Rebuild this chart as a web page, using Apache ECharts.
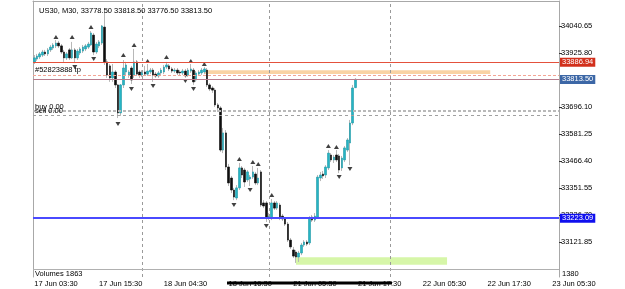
<!DOCTYPE html>
<html><head><meta charset="utf-8">
<script src="https://cdn.jsdelivr.net/npm/echarts/dist/echarts.min.js"></script>
<style>html,body{margin:0;padding:0;background:#fff}#c{width:625px;height:289px}</style>
</head><body><div id="c"></div><script>
// ---- data ----
const tickLabels = ['17 Jun 03:30','17 Jun 15:30','18 Jun 04:30','18 Jun 16:30','21 Jun 05:30','21 Jun 17:30','22 Jun 05:30','22 Jun 17:30','23 Jun 05:30'];
const priceTicks = [33121.85,33236.70,33351.55,33466.40,33581.25,33696.10,33925.80,34040.65];
const open  = [33887,33900,33909,33917,33930,33922,33939,33947,33956,33968,33956,33930,33905,33939,33905,33939,33905,33926,33934,33943,33951,33960,34002,33930,33956,33968,34036,33888,33871,33820,
33845,33790,33671,33790,33845,33832,33862,33832,33888,33845,33832,33845,33836,33845,33853,33836,33828,33841,33845,33866,33871,33858,33849,33853,33845,33841,33849,33832,33849,33853,
33811,33836,33841,33845,33853,33790,33777,33768,33705,33692,33513,33586,33441,33394,33343,33309,33352,33437,33428,33386,33390,33398,33411,33373,33420,33288,33288,33224,33224,33288,
33266,33279,33232,33220,33198,33130,33088,33079,33058,33075,33109,33122,33118,33228,33215,33228,33394,33411,33407,33437,33492,33471,33492,33488,33437,33471,33513,33543,33628,33778.5];
const high  = [33917,33922,33930,33939,33939,33947,33960,33968,33981,33977,33964,33939,33930,33947,33973,33947,33943,33951,33960,33964,33973,34019,34011,33973,33981,34045,34117,33900,33879,33879,
33853,33794,33794,33896,33888,33853,33871,33943,33896,33853,33853,33871,33879,33862,33862,33845,33849,33862,33875,33888,33879,33866,33862,33862,33853,33858,33858,33862,33879,33862,
33849,33853,33862,33866,33862,33798,33785,33777,33713,33700,33607,33598,33454,33403,33352,33364,33458,33445,33437,33428,33407,33445,33420,33437,33428,33300,33296,33245,33305,33296,
33296,33288,33241,33228,33207,33139,33101,33088,33084,33118,33130,33130,33232,33237,33245,33407,33420,33424,33449,33513,33500,33492,33513,33496,33488,33530,33564,33641,33790,33818.5];
const low   = [33879,33892,33900,33909,33913,33913,33930,33939,33947,33947,33922,33888,33896,33896,33900,33883,33896,33917,33926,33934,33943,33956,33917,33922,33947,33960,33875,33820,33803,33803,
33777,33649,33658,33777,33832,33820,33794,33820,33828,33820,33824,33828,33828,33836,33803,33820,33820,33832,33836,33858,33849,33841,33841,33832,33832,33832,33820,33824,33841,33790,
33803,33828,33832,33836,33781,33764,33756,33696,33675,33505,33500,33428,33360,33330,33300,33300,33343,33394,33356,33377,33360,33390,33364,33364,33271,33266,33207,33215,33215,33258,
33258,33215,33211,33190,33122,33092,33054,33033,33037,33066,33101,33105,33109,33207,33207,33220,33381,33390,33394,33428,33462,33458,33462,33415,33424,33462,33505,33449,33619,33776.5];
const close = [33905,33913,33922,33930,33922,33939,33951,33960,33968,33956,33930,33905,33922,33905,33939,33905,33934,33943,33951,33956,33964,34011,33930,33964,33973,34041,33888,33832,33820,33845,
33790,33671,33790,33862,33875,33845,33811,33888,33836,33832,33845,33836,33849,33853,33832,33828,33841,33853,33866,33875,33858,33849,33853,33841,33841,33849,33828,33853,33858,33803,
33841,33845,33853,33858,33790,33773,33768,33705,33692,33513,33586,33441,33373,33343,33313,33352,33437,33407,33377,33420,33398,33420,33373,33394,33279,33275,33224,33232,33288,33266,
33288,33224,33220,33198,33130,33101,33062,33058,33075,33109,33122,33113,33224,33215,33232,33398,33407,33403,33441,33500,33471,33483,33471,33428,33479,33522,33556,33628,33777,33813.5];
const fractalUp   = [[8,33994],[14,33994],[21,34036],[33,33917],[37,33960],[42,33892],[49,33909],[58,33892],[63,33879],[76,33475],[81,33462],[83,33454],[88,33322],[109,33530],[112,33526]];
const fractalDown = [[15,33866],[22,33900],[31,33624],[36,33773],[44,33785],[56,33807],[59,33773],[74,33279],[80,33343],[86,33190],[113,33398],[117,33432]];
const hLevels = {stop: 33886.94, tp: 33830.9, bid: 33813.50, buy: 33680.4, sell: 33660.8, blue: 33223.09, volSep: 33007};
const daySeparators = [40, 87, 132];
const orangeZone = {from: 63, to: 169, top: 33852, bottom: 33836};
const greenZone  = {from: 97, to: 153, top: 33057, bottom: 33025};
const nCats = 195;

// ---- build ----
const cats = Array.from({length: nCats}, (_, i) => String(i));
const wickData = open.map((o, i) => [o, close[i], low[i], high[i]]);
const bodyData = open.map((o, i) => [o, close[i], Math.min(o, close[i]), Math.max(o, close[i])]);
const FONT = 'Liberation Sans, Arial, sans-serif';
const FS = 7.5;
const chart = echarts.init(document.getElementById('c'), null, {renderer: 'canvas'});

function boxLabel(bg) {
  return {show: true, position: 'end', distance: 1, formatter: p => p.value.toFixed(2), color: '#fff',
    backgroundColor: bg, padding: [1, 2, 0, 2], fontSize: FS, fontFamily: FONT};
}
function leftLabel(txt, dy) {
  return {show: true, position: 'insideStartTop', distance: [2, dy], formatter: txt, color: '#000', fontSize: FS, fontFamily: FONT};
}

chart.setOption({
  animation: false,
  backgroundColor: '#fff',
  title: {text: 'US30, M30, 33778.50 33818.50 33776.50 33813.50', left: 34, top: 2,
    textStyle: {fontSize: FS, fontWeight: 'normal', color: '#000', fontFamily: FONT}},
  grid: {left: 33, right: 66, top: 1, bottom: 12, show: false},
  xAxis: [{
    type: 'category', data: cats, boundaryGap: true,
    axisLine: {show: false}, axisTick: {show: false}, splitLine: {show: false},
    axisLabel: {interval: 23, align: 'left', margin: 3, fontSize: FS, color: '#000', fontFamily: FONT,
      formatter: (v, i) => tickLabels[Math.round(i / 24)] || ''}
  }, {
    type: 'category', data: cats, position: 'top', axisLine: {show: true, lineStyle: {color: '#a8a8a8'}},
    axisTick: {show: false}, axisLabel: {show: false}
  }],
  yAxis: [{
    type: 'value', position: 'right', min: 32973.0, max: 34147.0, scale: true,
    splitLine: {show: false},
    axisLine: {show: true, lineStyle: {color: '#a8a8a8'}},
    axisTick: {show: true, inside: false, length: 3, lineStyle: {color: '#333'}, customValues: priceTicks},
    axisLabel: {margin: 2, fontSize: FS, color: '#000', fontFamily: FONT, customValues: priceTicks,
      formatter: v => v.toFixed(2)}
  }, {
    type: 'value', position: 'left', min: 32973.0, max: 34147.0,
    splitLine: {show: false}, axisLine: {show: true, lineStyle: {color: '#a8a8a8'}},
    axisTick: {show: false}, axisLabel: {show: false}
  }],
  graphic: [
    {type: 'text', left: 35, top: 269.5, style: {text: 'Volumes 1863', fontSize: FS, fill: '#000', fontFamily: FONT}},
    {type: 'text', left: 562, top: 269.5, style: {text: '1380', fontSize: FS, fill: '#000', fontFamily: FONT}},
    {type: 'rect', shape: {x: 227, y: 281.5, width: 165, height: 3}, style: {fill: '#000'}}
  ],
  series: [
    {
      type: 'candlestick', data: wickData, barWidth: 1, silent: true,
      itemStyle: {color: '#b8b8b8', color0: '#b8b8b8', borderColor: '#b8b8b8', borderColor0: '#b8b8b8', borderWidth: 1},
      markLine: {
        silent: true, symbol: 'none', animation: false,
        data: daySeparators.map(d => ({xAxis: d, lineStyle: {color: '#9a9a9a', type: [3, 3], width: 1}, label: {show: false}})).concat([
          {yAxis: hLevels.volSep, lineStyle: {color: '#b0b0b0', type: 'solid', width: 1}, label: {show: false}}
        ])
      },
      markArea: {
        silent: true,
        data: [
          [{xAxis: orangeZone.from, yAxis: orangeZone.top, itemStyle: {color: '#f9d3a4'}}, {xAxis: orangeZone.to, yAxis: orangeZone.bottom}],
          [{xAxis: greenZone.from, yAxis: greenZone.top, itemStyle: {color: '#d6f6a8'}}, {xAxis: greenZone.to, yAxis: greenZone.bottom}]
        ]
      }
    },
    {
      type: 'candlestick', data: bodyData, barWidth: 2, silent: true,
      itemStyle: {color: '#26b4c4', color0: '#0e0e0e', borderColor: '#1f98a6', borderColor0: '#0e0e0e', borderWidth: 0.6},
      markLine: {
        silent: true, symbol: 'none', animation: false,
        data: [
          {yAxis: hLevels.stop, lineStyle: {color: '#e4513c', type: 'solid', width: 1}, label: boxLabel('#d2301c')},
          {yAxis: hLevels.tp, lineStyle: {color: '#f4a494', type: [3, 2], width: 1}, label: leftLabel('#52823888 tp', 1)},
          {yAxis: hLevels.bid, lineStyle: {color: '#b87c8c', type: 'solid', width: 1}, label: boxLabel('#3c67a6')},
          {yAxis: hLevels.buy, lineStyle: {color: '#b9b9b9', type: [3, 2], width: 2}, label: leftLabel('buy 0.00', 0)},
          {yAxis: hLevels.sell, lineStyle: {color: '#a0a0a0', type: [3, 3], width: 1}, label: leftLabel('sell 0.00', 0)},
          {yAxis: hLevels.blue, lineStyle: {color: '#4a4aff', type: 'solid', width: 2}, label: boxLabel('#1010ee')}
        ]
      }
    },
    {type: 'scatter', data: fractalUp, symbol: 'triangle', symbolSize: [5, 4], itemStyle: {color: '#111'}, silent: true},
    {type: 'scatter', data: fractalDown, symbol: 'triangle', symbolRotate: 180, symbolSize: [5, 4], itemStyle: {color: '#111'}, silent: true}
  ]
});
</script></body></html>
